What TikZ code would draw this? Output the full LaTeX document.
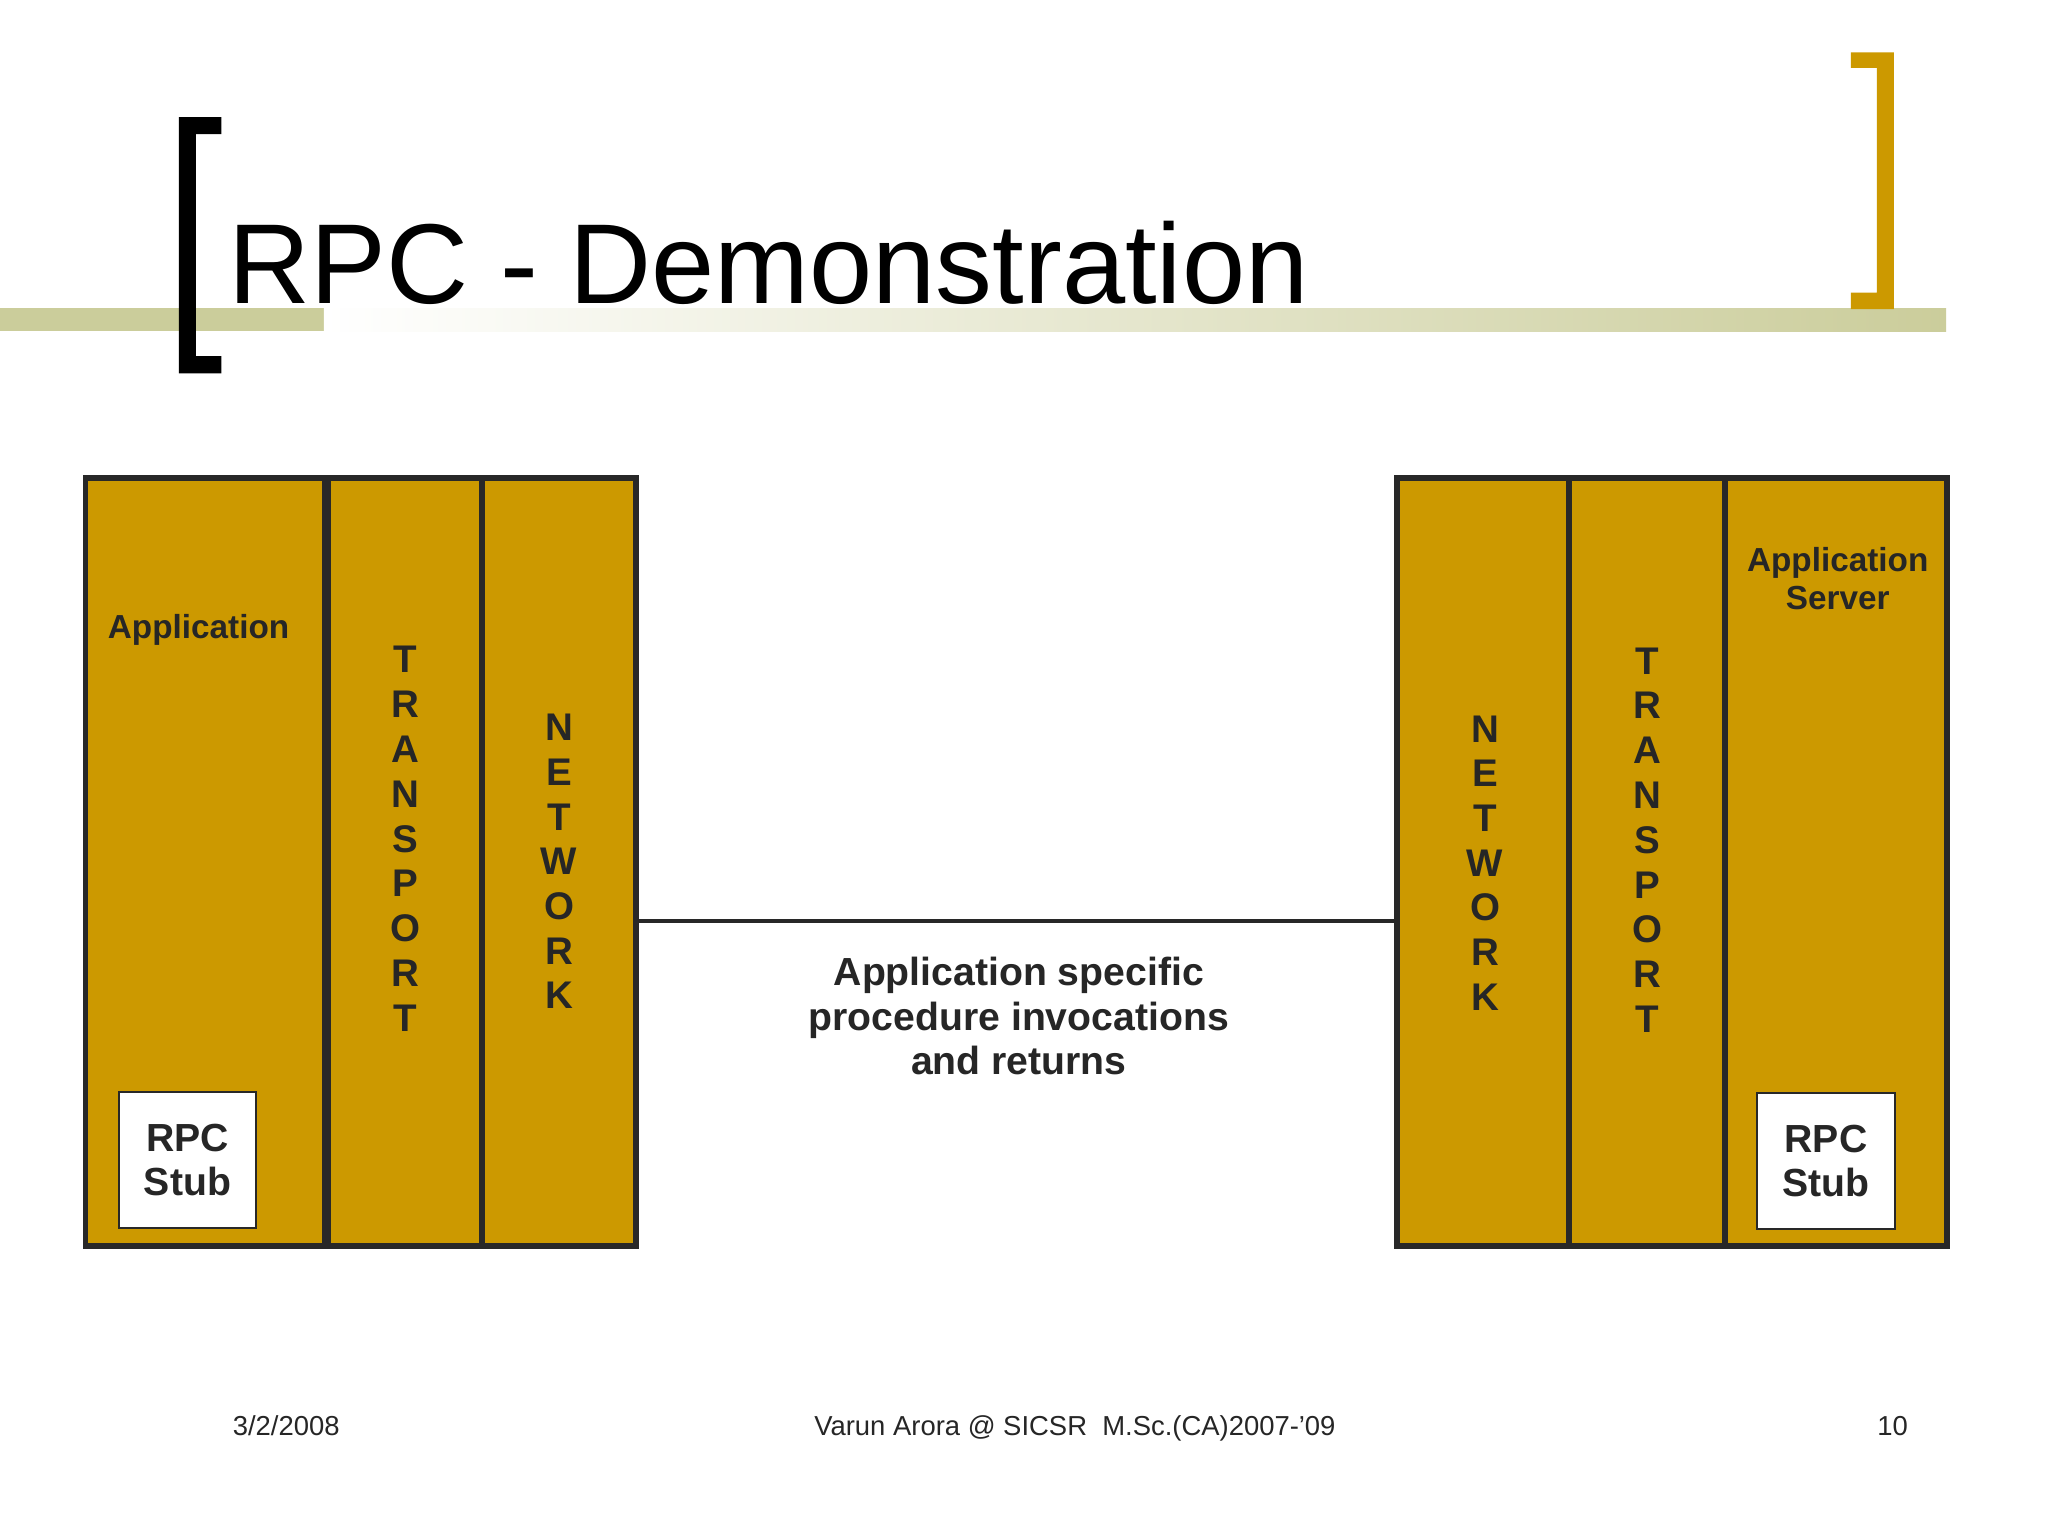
\documentclass[tikz,border=0pt]{standalone}
\usepackage{fontspec}
\setmainfont{Liberation Sans}
\usetikzlibrary{positioning}
\definecolor{gold}{RGB}{204,153,0}
\definecolor{edge}{RGB}{40,40,40}
\definecolor{ink}{RGB}{38,38,38}
\definecolor{bargreen}{RGB}{203,205,155}
\tikzset{
  col/.style={draw=edge, fill=gold, line width=4.5pt, minimum height=588pt, inner sep=0pt},
  stub/.style={draw=edge, fill=white, line width=1.5pt, minimum width=105pt, minimum height=104pt,
    inner sep=0pt, align=center, text=ink, font=\bfseries\fontsize{30}{34}\selectfont},
  letter/.style={text=ink, inner sep=0pt, font=\bfseries\fontsize{29.5}{34}\selectfont},
  lbl/.style={text=ink, inner sep=0pt, align=center, font=\bfseries\fontsize{25.5}{29.5}\selectfont},
  foot/.style={text=ink, inner sep=0pt, anchor=base, font=\fontsize{21}{25}\selectfont},
  link/.style={draw=edge, line width=3pt}}

\begin{document}
\begin{tikzpicture}[x=1pt, y=-1pt]
\useasboundingbox (0,0) rectangle (1568,1176);
\fill[white] (0,0) rectangle (1568,1176);
% title bar and brackets
\fill[bargreen] (0,236) rectangle (248,253.5);
\shade[left color=white, right color=bargreen] (248,236) rectangle (1490,253.5);
\fill[black] (137,89.6) -- (169.5,89.6) -- (169.5,102.6) -- (150,102.6) -- (150,272.6)
  -- (169.5,272.6) -- (169.5,285.8) -- (137,285.8) -- cycle;
\fill[gold] (1417,40) -- (1450,40) -- (1450,236.6) -- (1417,236.6) -- (1417,224)
  -- (1437,224) -- (1437,52) -- (1417,52) -- cycle;
\node[anchor=base west, inner sep=0pt, font=\fontsize{87}{100}\selectfont] (title) at (175,232) {RPC - Demonstration};

% client stack
\node[col, minimum width=183.5pt] (lapp) at (157.25,660) {};
\node[col, minimum width=117.5pt] (ltrans) at (310.25,660) {};
\node[col, minimum width=118pt] (lnet) at (428,660) {};
\node[lbl, anchor=base] (lapptxt) at (152,489) {Application};
\node[stub] (lstub) at (143.5,888) {RPC\\Stub};
\foreach \ch [count=\i] in {T,R,A,N,S,P,O,R,T}
  \node[letter] (lt\i) at (310.5,{505+34.3*(\i-1)}) {\ch};
\foreach \ch [count=\i] in {N,E,T,W,O,R,K}
  \node[letter] (ln\i) at (428,{557+34.2*(\i-1)}) {\ch};

% server stack
\node[col, minimum width=131.5pt] (rnet) at (1135.25,660) {};
\node[col, minimum width=119.5pt] (rtrans) at (1260.75,660) {};
\node[col, minimum width=170pt] (rapp) at (1405.5,660) {};
\node[lbl] (rapptxt) at (1407,443) {Application\\Server};
\node[stub] (rstub) at (1398,889) {RPC\\Stub};
\foreach \ch [count=\i] in {N,E,T,W,O,R,K}
  \node[letter] (rn\i) at (1137,{558+34.2*(\i-1)}) {\ch};
\foreach \ch [count=\i] in {T,R,A,N,S,P,O,R,T}
  \node[letter] (rt\i) at (1261,{506+34.3*(\i-1)}) {\ch};

% link between the two machines
\draw[link] ([yshift=-45pt]lnet.east) -- ([yshift=-45pt]rnet.west);
\node[text=ink, inner sep=0pt, align=center, font=\bfseries\fontsize{30}{34}\selectfont] (calls) at (780,778)
  {Application specific\\procedure invocations\\and returns};

% footer
\node[foot, anchor=base west] (date) at (178,1099) {3/2/2008};
\node[foot] (credit) at (823,1099) {Varun Arora @ SICSR\ \ M.Sc.(CA)2007-’09};
\node[foot] (page) at (1449,1099) {10};
\end{tikzpicture}
\end{document}
